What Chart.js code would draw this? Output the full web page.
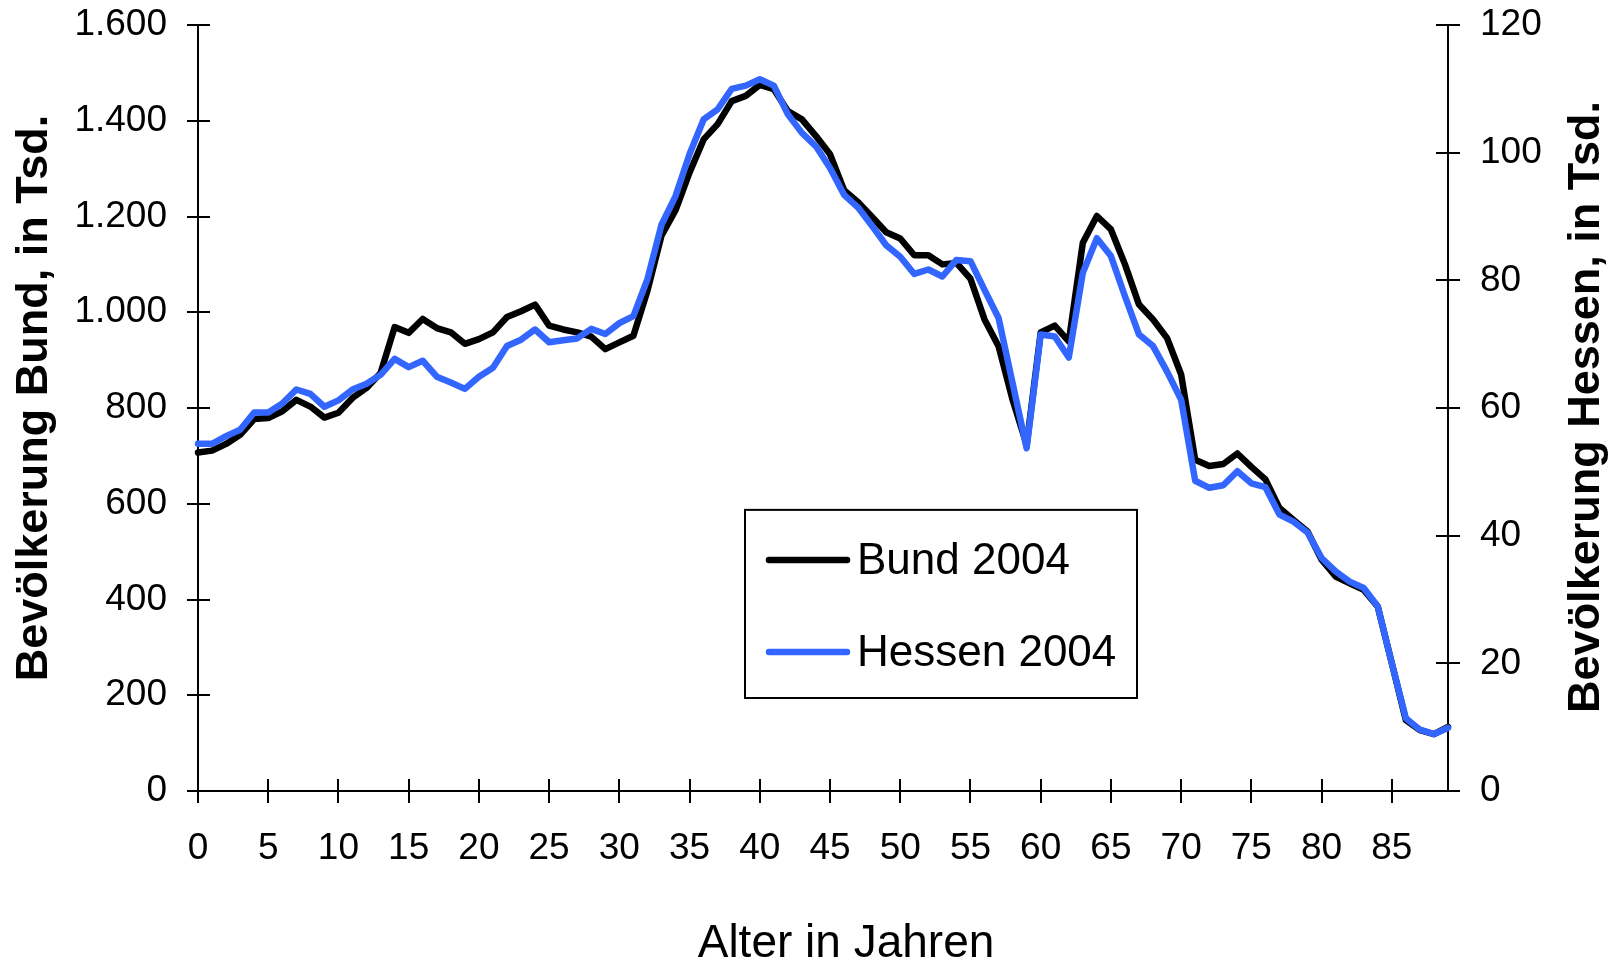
<!DOCTYPE html>
<html><head><meta charset="utf-8">
<script src="https://cdn.jsdelivr.net/npm/chart.js@4.4.1/dist/chart.umd.min.js"></script>
<style>html,body{margin:0;padding:0;background:#fff;overflow:hidden;}</style>
</head><body>
<canvas id="c" width="1614" height="963"></canvas>
<script>
const ages = [0,1,2,3,4,5,6,7,8,9,10,11,12,13,14,15,16,17,18,19,20,21,22,23,24,25,26,27,28,29,30,31,32,33,34,35,36,37,38,39,40,41,42,43,44,45,46,47,48,49,50,51,52,53,54,55,56,57,58,59,60,61,62,63,64,65,66,67,68,69,70,71,72,73,74,75,76,77,78,79,80,81,82,83,84,85,86,87,88,89];
const bund2004 = [707,711,725,744,777,779,793,817,803,780,
  790,821,842,873,969,957,986,967,958,934,
  944,958,990,1002,1016,972,964,958,949,923,
  937,951,1045,1160,1213,1292,1361,1393,1441,1452,
  1475,1466,1420,1403,1368,1330,1255,1230,1199,1167,
  1154,1119,1119,1100,1103,1070,985,929,817,723,
  958,972,939,1145,1201,1173,1100,1016,985,946,
  870,692,679,683,705,677,651,591,566,542,
  483,448,434,420,385,267,148,127,119,134];
const hessen2004 = [54.4,54.4,55.6,56.6,59.3,59.3,60.7,62.9,62.2,60.2,
  61.2,62.9,63.8,65.2,67.7,66.4,67.4,64.9,64.0,63.0,
  64.9,66.3,69.7,70.7,72.3,70.3,70.6,70.9,72.4,71.6,
  73.3,74.4,80.2,88.7,93.2,99.8,105.2,106.8,110.0,110.5,
  111.5,110.5,106.0,103.1,101.0,97.6,93.4,91.4,88.5,85.5,
  83.7,81.0,81.7,80.6,83.2,83.0,78.5,74.1,63.9,53.7,
  71.5,71.2,67.9,81.2,86.6,83.8,77.5,71.5,69.7,65.7,
  61.3,48.6,47.5,47.9,50.1,48.2,47.6,43.3,42.2,40.5,
  36.5,34.4,32.8,31.8,28.9,20.0,11.4,9.6,8.9,9.9];
const xTicks = [0,5,10,15,20,25,30,35,40,45,50,55,60,65,70,75,80,85];
const leftTicks = [0,200,400,600,800,1000,1200,1400,1600];
const leftTickLabels = ['0','200','400','600','800','1.000','1.200','1.400','1.600'];
const rightTicks = [0,20,40,60,80,100,120];
const seriesNames = ['Bund 2004','Hessen 2004'];
const seriesColors = ['#000000','#3366ff'];
const xTitle = 'Alter in Jahren';
const yLeftTitle = 'Bevölkerung Bund, in Tsd.';
const yRightTitle = 'Bevölkerung Hessen, in Tsd.';

const FONT = "'Liberation Sans', Arial, sans-serif";

const decor = {
  id: 'decor',
  beforeDatasetsDraw(chart) {
    const ctx = chart.ctx, a = chart.chartArea;
    ctx.save();
    ctx.strokeStyle = '#000';
    ctx.lineWidth = 2;
    ctx.beginPath();
    const yl = chart.scales.yL, yr = chart.scales.yR, x = chart.scales.x;
    yl.ticks.forEach(t => { const p = Math.round(yl.getPixelForValue(t.value)); ctx.moveTo(a.left, p); ctx.lineTo(a.left + 12, p); });
    yr.ticks.forEach(t => { const p = Math.round(yr.getPixelForValue(t.value)); ctx.moveTo(a.right, p); ctx.lineTo(a.right - 12, p); });
    x.ticks.forEach(t => { const p = Math.round(x.getPixelForValue(t.value)); ctx.moveTo(p, a.bottom); ctx.lineTo(p, a.bottom - 12); });
    ctx.stroke();
    ctx.restore();
  },
  afterDraw(chart) {
    const ctx = chart.ctx, a = chart.chartArea;
    ctx.save();
    ctx.fillStyle = '#000';
    ctx.font = "bold 45px " + FONT;
    ctx.textAlign = 'center';
    ctx.textBaseline = 'alphabetic';
    const cy = (a.top + a.bottom) / 2;
    ctx.save();
    ctx.translate(47, cy - 10);
    ctx.rotate(-Math.PI / 2);
    ctx.fillText(chart.options.scales.yL.title.text, 0, 0);
    ctx.restore();
    ctx.save();
    ctx.translate(1599, cy - 1);
    ctx.rotate(-Math.PI / 2);
    ctx.fillText(chart.options.scales.yR.title.text, 0, 0);
    ctx.restore();
    ctx.font = "46px " + FONT;
    ctx.fillText(chart.options.scales.x.title.text, (a.left + a.right) / 2 + 23, 957);
    // legend
    const w = a.right - a.left, h = a.bottom - a.top;
    const bx = a.left + w * 0.4376, by = a.top + h * 0.633;
    const bw = w * 0.3136, bh = h * 0.2456;
    ctx.fillStyle = '#fff';
    ctx.fillRect(bx, by, bw, bh);
    ctx.strokeStyle = '#000';
    ctx.lineWidth = 2;
    ctx.strokeRect(bx, by, bw, bh);
    ctx.font = "44px " + FONT;
    ctx.textAlign = 'left';
    ctx.textBaseline = 'middle';
    chart.data.datasets.forEach((ds, i) => {
      const ry = by + 50 + i * 92;
      ctx.strokeStyle = ds.borderColor;
      ctx.lineWidth = ds.borderWidth;
      ctx.lineCap = 'round';
      ctx.beginPath();
      ctx.moveTo(bx + 24, ry);
      ctx.lineTo(bx + 102, ry);
      ctx.stroke();
      ctx.fillStyle = '#000';
      ctx.fillText(ds.label, bx + 112, ry + 2);
    });
    ctx.restore();
  }
};

const tickFont = { family: FONT, size: 37 };

new Chart(document.getElementById('c'), {
  type: 'line',
  data: {
    labels: ages,
    datasets: [
      { label: seriesNames[0], data: bund2004, yAxisID: 'yL', borderColor: seriesColors[0], backgroundColor: seriesColors[0],
        borderWidth: 6.5, pointRadius: 0, tension: 0, borderJoinStyle: 'round', borderCapStyle: 'round', order: 1, clip: 6 },
      { label: seriesNames[1], data: hessen2004, yAxisID: 'yR', borderColor: seriesColors[1], backgroundColor: seriesColors[1],
        borderWidth: 6.5, pointRadius: 0, tension: 0, borderJoinStyle: 'round', borderCapStyle: 'round', order: 0, clip: 6 }
    ]
  },
  options: {
    responsive: false,
    animation: false,
    devicePixelRatio: 1,
    layout: { padding: { top: 25, left: 0, right: 0, bottom: 0 } },
    plugins: { legend: { display: false }, tooltip: { enabled: false } },
    events: [],
    scales: {
      x: {
        type: 'linear', min: 0, max: 89,
        afterBuildTicks: s => { s.ticks = xTicks.map(v => ({ value: v })); },
        afterFit: s => { s.height = 172; s.paddingLeft = 0; s.paddingRight = 0; },
        ticks: { font: tickFont, color: '#000', padding: 24, maxRotation: 0, autoSkip: false, callback: v => String(v) },
        grid: { display: true, drawOnChartArea: false, drawTicks: true, tickLength: 12, color: '#000', lineWidth: 2 },
        border: { display: true, color: '#000', width: 2 },
        title: { display: false, text: xTitle }
      },
      yL: {
        type: 'linear', position: 'left', min: 0, max: 1600,
        afterBuildTicks: s => { s.ticks = leftTicks.map(v => ({ value: v })); },
        afterFit: s => { s.width = 198; s.paddingTop = 0; s.paddingBottom = 0; },
        ticks: { font: tickFont, color: '#000', padding: 20, callback: v => leftTickLabels[leftTicks.indexOf(v)] },
        grid: { display: true, drawOnChartArea: false, drawTicks: true, tickLength: 11, color: '#000', lineWidth: 2 },
        border: { display: true, color: '#000', width: 2 },
        title: { display: false, text: yLeftTitle }
      },
      yR: {
        type: 'linear', position: 'right', min: 0, max: 120,
        afterBuildTicks: s => { s.ticks = rightTicks.map(v => ({ value: v })); },
        afterFit: s => { s.width = 166; s.paddingTop = 0; s.paddingBottom = 0; },
        ticks: { font: tickFont, color: '#000', padding: 20, callback: v => String(v) },
        grid: { display: true, drawOnChartArea: false, drawTicks: true, tickLength: 12, color: '#000', lineWidth: 2 },
        border: { display: true, color: '#000', width: 2 },
        title: { display: false, text: yRightTitle }
      }
    }
  },
  plugins: [decor]
});
</script>
</body></html>
